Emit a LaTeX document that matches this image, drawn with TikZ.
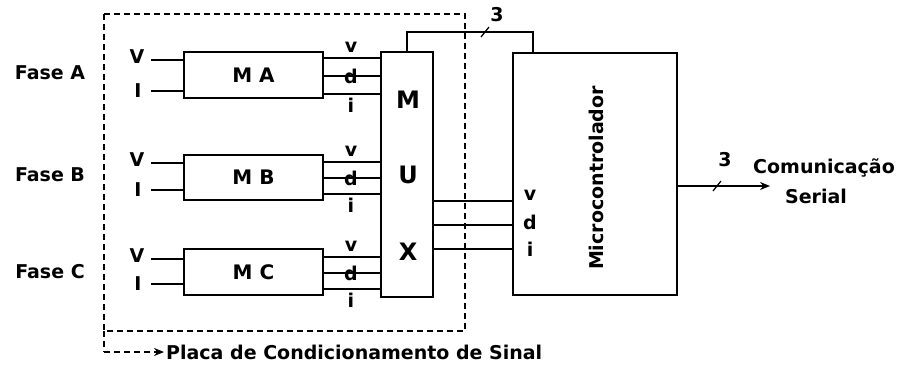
\documentclass[tikz,border=0pt]{standalone}
\usepackage{fontspec}
\setmainfont{DejaVu Sans}
\usetikzlibrary{arrows.meta}
\begin{document}
\begin{tikzpicture}[x=1pt,y=-1pt,
  wire/.style={line width=1.8pt},
  blk/.style={draw,line width=1.8pt,rectangle,inner sep=0pt},
  lbl/.style={font=\fontsize{19}{19}\selectfont\bfseries,inner sep=0pt},
  sml/.style={font=\fontsize{19}{19}\selectfont\bfseries,inner sep=0pt},
  big/.style={font=\fontsize{24}{24}\selectfont\bfseries,inner sep=0pt},
  dsh/.style={line width=1.4pt,dash pattern=on 6pt off 4pt},
  tip/.style={-{Stealth[length=10pt,width=8pt]}}
]
\useasboundingbox[fill=white] (0,0) rectangle (901,369);

% dashed board outline
\coordinate (dtl) at (104,14);
\coordinate (dbr) at (465,331);
\coordinate (dend) at (104,352);
\coordinate (dtip) at (164,352);
\draw[dsh] (dtl) rectangle (dbr);
\draw[dsh] (dtl |- dbr) -- (dend);
\draw[dsh,tip] (dend) -- (dtip);
\node[lbl,anchor=west] (placa) at (166,352) {Placa de Condicionamento de Sinal};

% phase labels
\node[lbl] (fa) at (50,73) {Fase A};
\node[lbl] (fb) at (50,175) {Fase B};
\node[lbl] (fc) at (50,272) {Fase C};

% measurement blocks
\node[blk,minimum width=139pt,minimum height=46pt,font=\fontsize{20}{20}\selectfont\bfseries] (ma) at (253.5,75) {M A};
\node[blk,minimum width=139pt,minimum height=45pt,font=\fontsize{20}{20}\selectfont\bfseries] (mb) at (253.5,177.5) {M B};
\node[blk,minimum width=139pt,minimum height=46pt,font=\fontsize{20}{20}\selectfont\bfseries] (mc) at (253.5,272) {M C};

% MUX
\node[blk,minimum width=52pt,minimum height=245pt] (mux) at (407,174.5) {};
\node[big] (mM) at (408,100) {M};
\node[big] (mU) at (408,175) {U};
\node[big] (mX) at (408,252) {X};

% microcontroller
\node[blk,minimum width=164pt,minimum height=242pt] (uc) at (595,174) {};
\node[lbl,rotate=90] (uct) at (596,178) {Microcontrolador};

% inputs V and I
\foreach \blk/\vy/\iy in {ma/60/91, mb/163/190, mc/259/284}{
  \coordinate (vs) at (151,\vy);
  \coordinate (is) at (151,\iy);
  \draw[wire] (vs) -- (vs -| \blk.west);
  \draw[wire] (is) -- (is -| \blk.west);
  \node[lbl] at (137,\vy-3) {V};
  \node[lbl] at (138,\iy) {I};
}

% outputs v d i to MUX
\foreach \blk/\a/\b/\c in {ma/58/76/94, mb/162/178/194, mc/257/273/289}{
  \coordinate (o1) at (330,\a);
  \coordinate (o2) at (330,\b);
  \coordinate (o3) at (330,\c);
  \draw[wire] (o1 -| \blk.east) -- (o1 -| mux.west);
  \draw[wire] (o2 -| \blk.east) -- (o2 -| mux.west);
  \draw[wire] (o3 -| \blk.east) -- (o3 -| mux.west);
  \node[sml] at (351,\a-11) {v};
  \node[sml] at (351,\b) {d};
  \node[sml] at (351,\c+11) {i};
}

% MUX to microcontroller
\foreach \y/\t/\ty in {201/v/195, 225/d/222, 249/i/249}{
  \coordinate (m) at (450,\y);
  \draw[wire] (m -| mux.east) -- (m -| uc.west);
  \node[sml] at (530,\ty) {\t};
}

% control bus on top
\coordinate (cb1) at (407,32);
\coordinate (cb2) at (533,32);
\draw[wire] (cb1 |- mux.north) -- (cb1) -- (cb2) -- (cb2 |- uc.north);
\coordinate (s1) at (485,32);
\draw[line width=1.2pt] ([shift={(-4,5)}]s1) -- ([shift={(4,-5)}]s1);
\node[sml] (n3a) at (497,15) {3};

% serial output
\coordinate (so) at (770,186);
\draw[wire,tip] (so -| uc.east) -- (so);
\coordinate (s2) at (717,186);
\draw[line width=1.2pt] ([shift={(-4,5)}]s2) -- ([shift={(4,-5)}]s2);
\node[sml] (n3b) at (725,160) {3};
\node[lbl] (com) at (824,168) {Comunicação};
\node[lbl] (ser) at (816,196) {Serial};
\end{tikzpicture}
\end{document}
